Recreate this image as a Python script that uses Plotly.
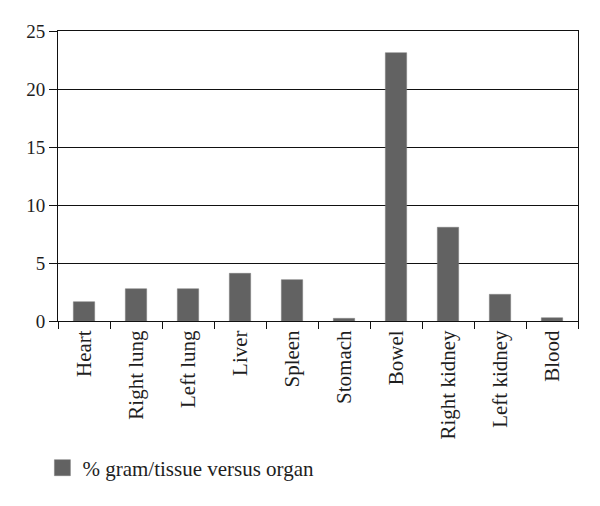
import plotly.graph_objects as go

organs = ["Heart", "Right lung", "Left lung", "Liver", "Spleen", "Stomach",
          "Bowel", "Right kidney", "Left kidney", "Blood"]
values = [1.66, 2.78, 2.78, 4.11, 3.56, 0.23, 23.13, 8.08, 2.3, 0.28]
series_name = "% gram/tissue versus organ"
y_ticks = [0, 5, 10, 15, 20, 25]

FONT = "Liberation Serif"
BAR = "#626262"
TXT = "#1e1e1e"

fig = go.Figure()
fig.add_trace(go.Bar(
    x=organs, y=values, name=series_name,
    marker=dict(color=BAR, line=dict(color="#7a7a7a", width=0.5)),
    showlegend=False,
))
# legend-only entry with a larger square swatch
fig.add_trace(go.Scatter(
    x=[None], y=[None], name=series_name, mode="markers",
    marker=dict(symbol="square", size=16, color=BAR, line=dict(color="#7a7a7a", width=0.5)),
    showlegend=True,
))

fig.update_layout(
    width=600, height=506,
    margin=dict(l=49.5, r=29.5, t=23, b=193),
    paper_bgcolor="white", plot_bgcolor="white",
    font=dict(family=FONT, size=21, color=TXT),
    bargap=0.59,
    showlegend=True,
    legend=dict(orientation="h", x=-0.03, xanchor="left", y=-0.507, yanchor="middle",
                font=dict(family=FONT, size=21, color=TXT),
                itemsizing="trace", bgcolor="rgba(0,0,0,0)"),
)
fig.update_xaxes(
    type="category", tickangle=-90, showgrid=False, automargin=False,
    showline=True, linecolor="#111", linewidth=1, mirror=True,
    ticks="outside", tickson="boundaries", ticklen=7, tickcolor="#111",
    tickfont=dict(family=FONT, size=21, color=TXT),
)
fig.update_yaxes(
    range=[0, 25], tickvals=y_ticks, showgrid=True, gridcolor="#111", gridwidth=1,
    showline=True, linecolor="#111", linewidth=1, mirror=True, automargin=False,
    ticks="outside", ticklen=8, tickcolor="#111", zeroline=False,
    tickfont=dict(family=FONT, size=19, color=TXT),
)

fig.write_html("out.html")
